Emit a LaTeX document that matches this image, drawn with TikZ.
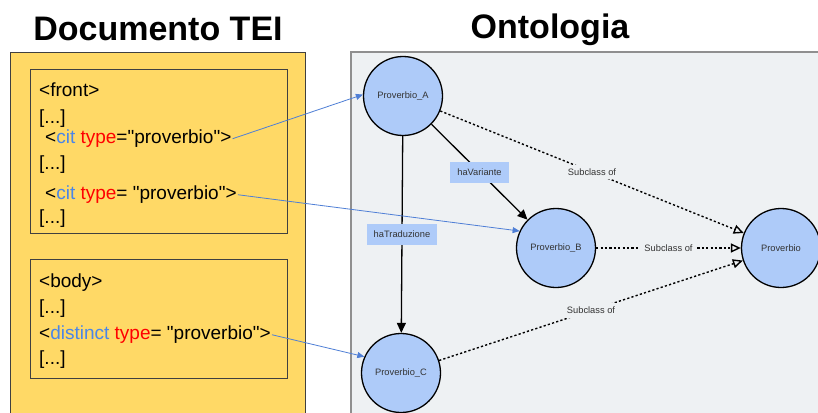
\documentclass[tikz,border=0pt]{standalone}
\usepackage{fontspec}
\setmainfont{Liberation Sans}[Ligatures=TeXOff]
\usepackage{xcolor}
\usetikzlibrary{arrows.meta}
\definecolor{TEIYellow}{HTML}{FFD966}
\definecolor{TEIFrame}{HTML}{404040}
\definecolor{OntoGray}{HTML}{EEF1F3}
\definecolor{OntoFrame}{HTML}{8F8F8F}
\definecolor{NodeBlue}{HTML}{AECBF9}
\definecolor{TagBlue}{HTML}{4A86E8}
\definecolor{LinkBlue}{HTML}{4F7FD6}
\definecolor{TextGray}{HTML}{333333}

\tikzset{
  codeline/.style={anchor=mid west,inner sep=1pt,font=\fontsize{19}{22}\selectfont},
  classnode/.style={circle,draw=black,line width=1.3pt,fill=NodeBlue,minimum size=79pt,inner sep=0pt,text=TextGray,font=\fontsize{9.3}{11}\selectfont},
  proplabel/.style={fill=NodeBlue,inner xsep=7pt,inner ysep=0pt,minimum height=21pt,text=TextGray,font=\fontsize{9.3}{11}\selectfont},
  subclasslabel/.style={fill=OntoGray,inner sep=4pt,text=TextGray,font=\fontsize{9.3}{11}\selectfont},
  relation/.style={line width=1.3pt,-{Triangle[length=10pt,width=9pt]}},
  subclass/.style={line width=1.4pt,dash pattern=on 2.2pt off 2.2pt,-{Triangle[open,length=10pt,width=9pt]}},
  link/.style={LinkBlue,line width=0.8pt,-{Triangle[length=7pt,width=6pt]}},
}

\newcommand{\tagname}[1]{\textcolor{TagBlue}{#1}}
\newcommand{\attrname}[1]{\textcolor{red}{#1}}

\begin{document}
\begin{tikzpicture}[x=1pt,y=-1pt]
\clip (0,0) rectangle (818,412);
\fill[white] (0,0) rectangle (818,412);

% titles
\node[anchor=base,font=\fontsize{34}{40}\selectfont\bfseries] (teititle) at (158,41) {Documento TEI};
\node[anchor=base,font=\fontsize{34}{40}\selectfont\bfseries] (ontotitle) at (550,38) {Ontologia};

% TEI document
\draw[fill=TEIYellow,draw=TEIFrame,line width=1pt] (10.5,52.5) rectangle (305.5,430);
\draw[draw=TEIFrame,line width=1pt] (30,69) rectangle (287,233);
\draw[draw=TEIFrame,line width=1pt] (30,259) rectangle (287,378);

\node[codeline] (front) at (38,94) {<front>};
\node[codeline] (dots1) at (38,121) {[...]};
\node[codeline] (cit1) at (44,141) {<\tagname{cit} \attrname{type}="proverbio">};
\node[codeline] (dots2) at (38,167) {[...]};
\node[codeline] (cit2) at (44,197) {<\tagname{cit} \attrname{type}= "proverbio">};
\node[codeline] (dots3) at (38,221) {[...]};

\node[codeline] (body) at (38,285) {<body>};
\node[codeline] (dots4) at (38,311) {[...]};
\node[codeline] (distinct) at (38,337) {<\tagname{distinct} \attrname{type}= "proverbio">};
\node[codeline] (dots5) at (38,362) {[...]};

% ontology
\draw[fill=OntoGray,draw=OntoFrame,line width=1.5pt] (351,52) rectangle (840,440);

\node[classnode] (provA) at (403,96) {Proverbio\_A};
\node[classnode] (provB) at (556,248) {Proverbio\_B};
\node[classnode] (provC) at (401,373) {Proverbio\_C};
\node[classnode] (prov) at (781,248) {Proverbio};

\draw[relation] (provA) -- node[proplabel] {haVariante} (provB);
\draw[relation] (provA) -- node[proplabel] {haTraduzione} (provC);

\draw[subclass] (provA) -- node[subclasslabel] {Subclass of} (prov);
\draw[subclass] (provB) -- node[subclasslabel] {Subclass of} (prov);
\draw[subclass] (provC) -- node[subclasslabel] {Subclass of} (prov);

% links TEI -> ontology
\draw[link] (cit1.east) -- (provA.178);
\draw[link] (cit2.east) -- (provB.155);
\draw[link] (distinct.east) -- (provC.156);
\end{tikzpicture}
\end{document}
